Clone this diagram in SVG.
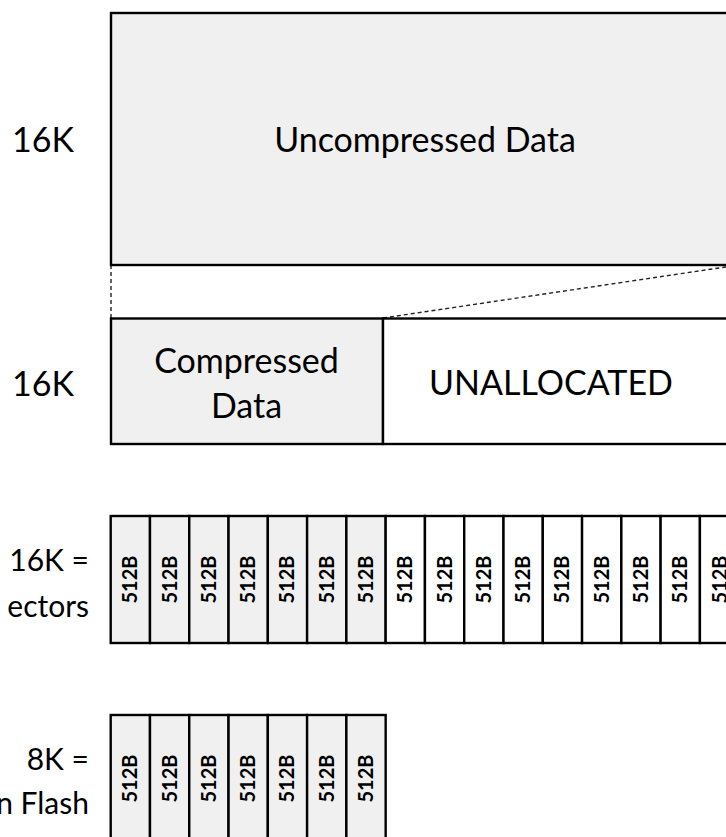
<svg xmlns="http://www.w3.org/2000/svg" width="726" height="837" viewBox="0 0 726 837">
<style>
.lbl{font-family:"Lato","Open Sans",sans-serif;fill:#000}
.big{font-size:34px}
.sm{font-size:30px}
.box{stroke:#000;stroke-width:2.4}
.gray{fill:#f0f0f0}
.white{fill:#fff}
.sec{font-family:"Lato","Open Sans",sans-serif;font-weight:bold;font-size:20px;text-anchor:middle;fill:#000}
.dash{stroke:#222;stroke-width:1.4;stroke-dasharray:4 3;fill:none}
</style>
<rect width="726" height="837" fill="#fff"/>
<g id="connectors">
<line class="dash" x1="111" y1="265" x2="111" y2="318"/>
<line class="dash" x1="383" y1="318" x2="739" y2="265"/>
</g>
<g id="uncompressed">
<rect class="box gray" x="111" y="13" width="628" height="252"/>
<text class="lbl big" x="425" y="152" text-anchor="middle">Uncompressed Data</text>
</g>
<g id="label-16k-top"><text class="lbl big" x="74" y="152" text-anchor="end">16K</text></g>
<g id="compressed">
<rect class="box gray" x="111" y="318.5" width="272" height="125.5"/>
<text class="lbl big" x="246.5" y="373" text-anchor="middle">Compressed</text>
<text class="lbl big" x="246.5" y="418" text-anchor="middle">Data</text>
</g>
<g id="unallocated">
<rect class="box white" x="383" y="318.5" width="356" height="125.5"/>
<text class="lbl big" x="551" y="395" text-anchor="middle">UNALLOCATED</text>
</g>
<g id="label-16k-mid"><text class="lbl big" x="74" y="396" text-anchor="end">16K</text></g>
<g id="label-sectors">
<text class="lbl sm" x="89" y="571" text-anchor="end">16K =</text>
<text class="lbl sm" x="89" y="617" text-anchor="end">ectors</text>
</g>
<g id="sectors16">
<rect class="box gray" x="110.7" y="516" width="39.28" height="127"/>
<rect class="box gray" x="149.98" y="516" width="39.28" height="127"/>
<rect class="box gray" x="189.26" y="516" width="39.28" height="127"/>
<rect class="box gray" x="228.54" y="516" width="39.28" height="127"/>
<rect class="box gray" x="267.82" y="516" width="39.28" height="127"/>
<rect class="box gray" x="307.1" y="516" width="39.28" height="127"/>
<rect class="box gray" x="346.38" y="516" width="39.28" height="127"/>
<rect class="box white" x="385.66" y="516" width="39.28" height="127"/>
<rect class="box white" x="424.94" y="516" width="39.28" height="127"/>
<rect class="box white" x="464.22" y="516" width="39.28" height="127"/>
<rect class="box white" x="503.5" y="516" width="39.28" height="127"/>
<rect class="box white" x="542.78" y="516" width="39.28" height="127"/>
<rect class="box white" x="582.06" y="516" width="39.28" height="127"/>
<rect class="box white" x="621.34" y="516" width="39.28" height="127"/>
<rect class="box white" x="660.62" y="516" width="39.28" height="127"/>
<rect class="box white" x="699.9" y="516" width="39.28" height="127"/>
<text class="sec" transform="translate(130.34 579.5) rotate(-90)" y="7">512B</text>
<text class="sec" transform="translate(169.62 579.5) rotate(-90)" y="7">512B</text>
<text class="sec" transform="translate(208.9 579.5) rotate(-90)" y="7">512B</text>
<text class="sec" transform="translate(248.18 579.5) rotate(-90)" y="7">512B</text>
<text class="sec" transform="translate(287.46 579.5) rotate(-90)" y="7">512B</text>
<text class="sec" transform="translate(326.74 579.5) rotate(-90)" y="7">512B</text>
<text class="sec" transform="translate(366.02 579.5) rotate(-90)" y="7">512B</text>
<text class="sec" transform="translate(405.3 579.5) rotate(-90)" y="7">512B</text>
<text class="sec" transform="translate(444.58 579.5) rotate(-90)" y="7">512B</text>
<text class="sec" transform="translate(483.86 579.5) rotate(-90)" y="7">512B</text>
<text class="sec" transform="translate(523.14 579.5) rotate(-90)" y="7">512B</text>
<text class="sec" transform="translate(562.42 579.5) rotate(-90)" y="7">512B</text>
<text class="sec" transform="translate(601.7 579.5) rotate(-90)" y="7">512B</text>
<text class="sec" transform="translate(640.98 579.5) rotate(-90)" y="7">512B</text>
<text class="sec" transform="translate(680.26 579.5) rotate(-90)" y="7">512B</text>
<text class="sec" transform="translate(719.54 579.5) rotate(-90)" y="7">512B</text>
</g>
<g id="label-flash">
<text class="lbl sm" x="89" y="770" text-anchor="end">8K =</text>
<text class="lbl sm" x="89" y="814" text-anchor="end">n Flash</text>
</g>
<g id="sectors8">
<rect class="box gray" x="110.7" y="715" width="39.28" height="127"/>
<rect class="box gray" x="149.98" y="715" width="39.28" height="127"/>
<rect class="box gray" x="189.26" y="715" width="39.28" height="127"/>
<rect class="box gray" x="228.54" y="715" width="39.28" height="127"/>
<rect class="box gray" x="267.82" y="715" width="39.28" height="127"/>
<rect class="box gray" x="307.1" y="715" width="39.28" height="127"/>
<rect class="box gray" x="346.38" y="715" width="39.28" height="127"/>
<text class="sec" transform="translate(130.34 778.5) rotate(-90)" y="7">512B</text>
<text class="sec" transform="translate(169.62 778.5) rotate(-90)" y="7">512B</text>
<text class="sec" transform="translate(208.9 778.5) rotate(-90)" y="7">512B</text>
<text class="sec" transform="translate(248.18 778.5) rotate(-90)" y="7">512B</text>
<text class="sec" transform="translate(287.46 778.5) rotate(-90)" y="7">512B</text>
<text class="sec" transform="translate(326.74 778.5) rotate(-90)" y="7">512B</text>
<text class="sec" transform="translate(366.02 778.5) rotate(-90)" y="7">512B</text>
</g>
</svg>
